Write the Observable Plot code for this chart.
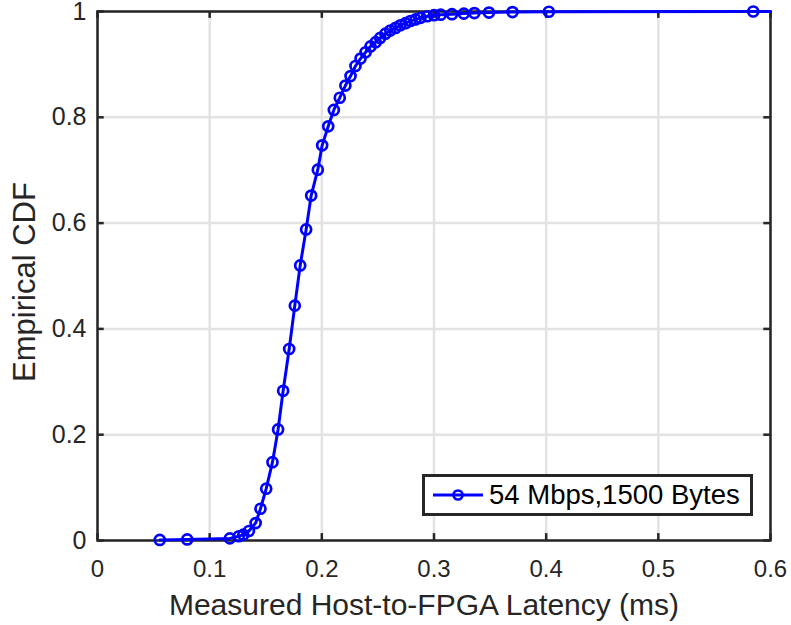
<!DOCTYPE html>
<html>
<head>
<meta charset="utf-8">
<script src="https://cdn.jsdelivr.net/npm/d3@7"></script>
<script src="https://cdn.jsdelivr.net/npm/@observablehq/plot@0.6"></script>
<style>
  body { margin: 0; background: #fff; }
  #wrap { position: relative; width: 791px; height: 625px; font-family: "Liberation Sans", Arial, sans-serif; }
  #legend { position: absolute; left: 422px; top: 474px; width: 331px; height: 42px; border: 3px solid #262626; background: #fff; box-sizing: border-box; display: flex; align-items: center; font-size: 27.5px; color: #000; white-space: nowrap; }
  #legend svg { margin-left: 7px; margin-right: 5px; }
</style>
</head>
<body>
<div id="wrap"></div>
<script>
const latency = [0.0555, 0.080, 0.118, 0.126, 0.130, 0.135, 0.141, 0.1453, 0.1504, 0.156, 0.161, 0.1655, 0.1709, 0.1759, 0.1807, 0.186, 0.1905, 0.1964, 0.2003, 0.2057, 0.2107, 0.216, 0.221, 0.2256, 0.230, 0.2345, 0.239, 0.2434, 0.248, 0.252, 0.2567, 0.261, 0.2657, 0.270, 0.2746, 0.279, 0.2835, 0.288, 0.294, 0.300, 0.306, 0.316, 0.3266, 0.336, 0.349, 0.370, 0.4024, 0.5846];
const cdf = [0.001, 0.002, 0.004, 0.008, 0.011, 0.018, 0.033, 0.060, 0.098, 0.148, 0.210, 0.283, 0.362, 0.444, 0.520, 0.588, 0.652, 0.701, 0.747, 0.783, 0.814, 0.837, 0.860, 0.878, 0.897, 0.911, 0.923, 0.934, 0.942, 0.950, 0.958, 0.964, 0.969, 0.974, 0.978, 0.982, 0.985, 0.988, 0.991, 0.993, 0.994, 0.995, 0.996, 0.997, 0.998, 0.999, 0.9995, 1.0];
const lineEnd = { x: 0.6, y: 1.0 };
const xTicks = [0, 0.1, 0.2, 0.3, 0.4, 0.5, 0.6];
const yTicks = [0, 0.2, 0.4, 0.6, 0.8, 1];
const xLabel = "Measured Host-to-FPGA Latency (ms)";
const yLabel = "Empirical CDF";
const seriesName = "54 Mbps,1500 Bytes";

const pts = latency.map((x, i) => ({ x, y: cdf[i] }));
const linePts = [...pts, lineEnd];

const blue = "#0000ff";
const ink = "#262626";
const chart = Plot.plot({
  width: 791,
  height: 625,
  marginLeft: 97,
  marginRight: 21,
  marginTop: 11,
  marginBottom: 85,
  style: { fontFamily: "Liberation Sans, Arial, sans-serif", fontSize: "25px", color: ink, background: "#fff", overflow: "visible" },
  x: { domain: [0, 0.6] },
  y: { domain: [0, 1] },
  marks: [
    Plot.gridX(xTicks, { stroke: "#e3e3e3", strokeOpacity: 1, strokeWidth: 2.5 }),
    Plot.gridY(yTicks, { stroke: "#e3e3e3", strokeOpacity: 1, strokeWidth: 2.5 }),
    Plot.axisX(xTicks, { tickSize: 0, tickPadding: 19, tickFormat: d => String(d), fontSize: 24, fill: ink, label: null }),
    Plot.axisY(yTicks, { tickSize: 0, tickPadding: 11, tickFormat: d => String(d), fontSize: 25, fill: ink, label: null }),
    Plot.text([xLabel], { frameAnchor: "bottom", textAnchor: "middle", lineAnchor: "middle", dx: -10, dy: 65, fontSize: 30, fill: ink }),
    Plot.text([yLabel], { frameAnchor: "left", textAnchor: "middle", lineAnchor: "middle", dx: -72, dy: 6, rotate: -90, fontSize: 31, fill: ink }),
    Plot.ruleX(xTicks, { y1: 0, y2: 0.013, stroke: ink, strokeWidth: 2.5 }),
    Plot.ruleX(xTicks, { y1: 0.987, y2: 1, stroke: ink, strokeWidth: 2.5 }),
    Plot.ruleY(yTicks, { x1: 0, x2: 0.006, stroke: ink, strokeWidth: 2.5 }),
    Plot.ruleY(yTicks, { x1: 0.594, x2: 0.6, stroke: ink, strokeWidth: 2.5 }),
    Plot.frame({ stroke: ink, strokeWidth: 2.5 }),
    Plot.line(linePts, { x: "x", y: "y", stroke: blue, strokeWidth: 3 }),
    Plot.dot(pts, { x: "x", y: "y", r: 5, stroke: blue, strokeWidth: 2.7, fill: "none" })
  ]
});
const wrap = document.getElementById("wrap");
wrap.appendChild(chart);
const legend = document.createElement("div");
legend.id = "legend";
legend.innerHTML = `<svg width="52" height="14"><line x1="1" y1="7" x2="51" y2="7" stroke="${blue}" stroke-width="3"/><circle cx="26" cy="7" r="4.5" stroke="${blue}" stroke-width="2.7" fill="none"/></svg><span>${seriesName}</span>`;
wrap.appendChild(legend);
</script>
</body>
</html>
